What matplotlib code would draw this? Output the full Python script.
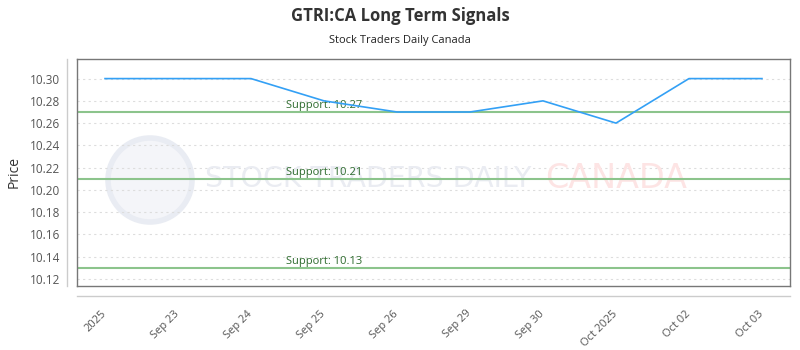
import matplotlib
matplotlib.use("Agg")
import matplotlib.pyplot as plt
from matplotlib.patches import Ellipse
from matplotlib.lines import Line2D
from matplotlib.transforms import ScaledTranslation

dates = ["2025", "Sep 23", "Sep 24", "Sep 25", "Sep 26", "Sep 29", "Sep 30", "Oct 2025", "Oct 02", "Oct 03"]
prices = [10.30, 10.30, 10.30, 10.28, 10.27, 10.27, 10.28, 10.26, 10.30, 10.30]
supports = [10.27, 10.21, 10.13]
support_label_pos = 3
yticks = [10.12, 10.14, 10.16, 10.18, 10.20, 10.22, 10.24, 10.26, 10.28, 10.30]

plt.rcParams['font.family'] = ['Open Sans', 'DejaVu Sans']

W, H = 800, 350
fig = plt.figure(figsize=(8, 3.5), dpi=100)
L, R, T, B = 77/W, 790/W, 1 - 59/H, 1 - 286/H
ax = fig.add_axes([L, B, R - L, T - B])

x = list(range(len(dates)))
ax.set_xlim(-0.384, len(dates) - 1 + 0.384)
ax.set_ylim(10.1137, 10.3176)

# watermark (inside the axes, beneath the data)
r = 42
ax.add_patch(Ellipse((150/W, 1 - 180/H), 2*r/W, 2*r/H, transform=fig.transFigure,
                     facecolor='#f4f5f9', edgecolor='#e9ecf3', lw=4, zorder=0.5, clip_on=False))
ax.text(205/W, 1 - 179/H, "STOCK TRADERS DAILY", fontsize=20.5, color='#eaecf2',
        ha='left', va='center', family=['DejaVu Sans'], transform=fig.transFigure, zorder=0.6)
ax.text(545/W, 1 - 179/H, "CANADA", fontsize=24, color='#fde4e4',
        ha='left', va='center', family=['DejaVu Sans'], transform=fig.transFigure, zorder=0.6)

for s in supports:
    ax.axhline(s, color='#8cc48c', lw=1.5, zorder=2)
    ax.text(support_label_pos, s + 0.001, f"Support: {s:.2f}", color='#2e6b2e', fontsize=8,
            ha='center', va='bottom', zorder=3)

ax.plot(x, prices, color='#33a0f5', lw=1.2, zorder=4)

ax.set_yticks(yticks)
ax.set_yticklabels([f"{v:.2f}" for v in yticks], fontsize=8.5, color='#555555')
ax.yaxis.grid(True, linestyle=(0, (2, 3)), color='#dddddd', lw=0.8, zorder=0.2)
ax.set_axisbelow(True)
ax.set_xticks(x)
ax.set_xticklabels(dates, rotation=45, fontsize=8, color='#555555', ha='right', rotation_mode='anchor')
ax.tick_params(axis='y', length=0, pad=12)
ax.tick_params(axis='x', length=0, pad=16)
offset = ScaledTranslation(-4/100, 0, fig.dpi_scale_trans)
for lbl in ax.get_xticklabels():
    lbl.set_transform(lbl.get_transform() + offset)
for sp in ax.spines.values():
    sp.set_color('#777777')
    sp.set_linewidth(1)

ax.set_ylabel("Price", fontsize=10, color='#333333')
ax.yaxis.set_label_coords((22 - 77) / (790 - 77), 0.5)

fig.add_artist(Line2D([67/W, 67/W], [1 - 59/H, 1 - 286/H], color='#cccccc', lw=1,
                      transform=fig.transFigure))
fig.add_artist(Line2D([77/W, 790/W], [1 - 296/H, 1 - 296/H], color='#cccccc', lw=1,
                      transform=fig.transFigure))

fig.text(0.5, 1 - 16/H, "GTRI:CA Long Term Signals", ha='center', va='center', fontsize=12,
         fontweight='bold', color='#333333')
fig.text(0.5, 1 - 41/H, "Stock Traders Daily Canada", ha='center', va='center', fontsize=8,
         color='#222222')

fig.savefig("out.png", dpi=100, facecolor='white')
